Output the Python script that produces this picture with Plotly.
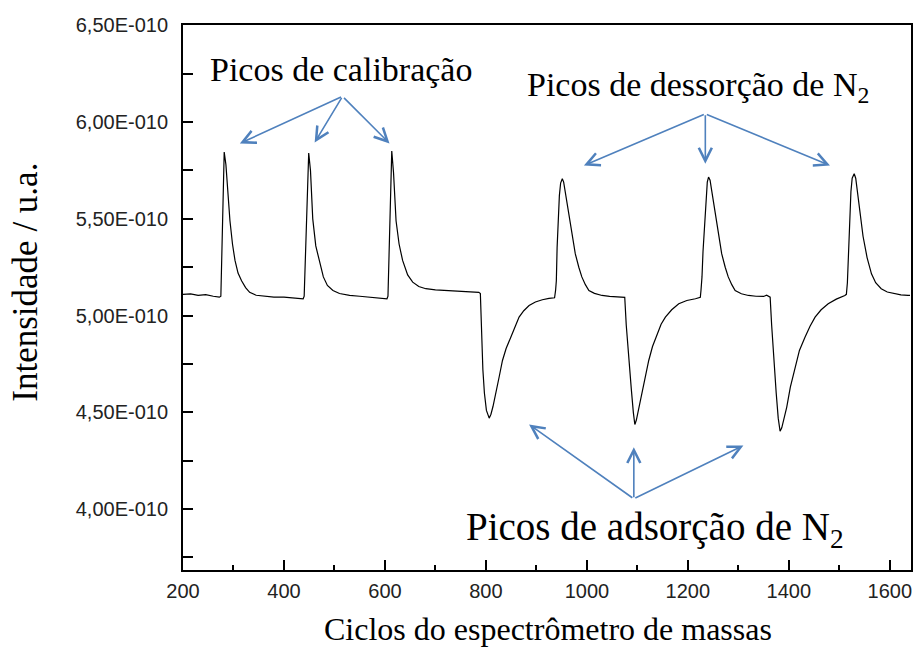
import plotly.graph_objects as go

# Mass-spectrometer trace: cycle number vs. N2 signal intensity (in units of 1E-10)
cycles = [
    200, 215, 230, 245, 260, 272, 275, 278, 281.6, 285, 289, 293, 298, 303, 309, 316, 324, 332,
    345, 360, 380, 400, 420, 438,
    440, 444, 449, 452.5, 457, 463, 470.6, 478, 486, 497, 510, 530, 550, 570, 590, 604,
    606, 610, 613.5, 617, 622, 628, 635, 645, 655, 667, 681, 700, 721, 740, 760, 775, 786, 789,
    791.5, 794, 797, 801, 806.5, 810, 814, 819.7, 826, 832.8, 840, 849.3, 857, 865.7, 875, 885.5,
    898, 911.8, 925, 936,
    938, 939.5, 941, 943.4, 945.5, 948, 951.3, 954, 957, 960.5, 964.5, 970, 977, 984, 990, 997,
    1004, 1015, 1030, 1045, 1063, 1075,
    1078, 1082, 1088, 1092, 1095, 1098, 1103, 1109, 1115, 1122.5, 1130, 1139, 1147, 1155.5, 1168,
    1182, 1198, 1215, 1224.7,
    1226, 1228, 1230, 1234.6, 1236.5, 1238.5, 1241, 1244, 1247, 1250.5, 1254.3, 1260, 1267, 1274,
    1280, 1287, 1293.7, 1306, 1320, 1335, 1350, 1356, 1360, 1363,
    1366, 1370, 1375, 1379, 1382.7, 1386, 1390, 1395.8, 1403, 1412.3, 1421, 1432, 1442, 1452,
    1464, 1478, 1494, 1511, 1514,
    1516, 1518, 1521, 1523, 1525.5, 1529.5, 1532.5, 1536, 1540.8, 1547, 1555, 1563.7, 1572, 1583,
    1595, 1609.9, 1622, 1636, 1640,
]
intensity_e10 = [
    5.110, 5.112, 5.105, 5.108, 5.100, 5.095, 5.100, 5.450, 5.845, 5.780, 5.620, 5.490, 5.370, 5.285, 5.220, 5.180, 5.145, 5.120,
    5.105, 5.100, 5.095, 5.095, 5.090, 5.087,
    5.100, 5.450, 5.840, 5.750, 5.500, 5.360, 5.270, 5.200, 5.156, 5.130, 5.114, 5.105, 5.100, 5.095, 5.090, 5.087,
    5.100, 5.480, 5.850, 5.740, 5.490, 5.370, 5.285, 5.210, 5.173, 5.150, 5.139, 5.133, 5.130, 5.128, 5.127, 5.125, 5.120, 5.114,
    4.900, 4.720, 4.600, 4.510, 4.470, 4.490, 4.530, 4.596, 4.680, 4.768, 4.830, 4.888, 4.940, 4.992, 5.025, 5.052,
    5.070, 5.082, 5.089, 5.092,
    5.130, 5.180, 5.350, 5.526, 5.620, 5.685, 5.707, 5.690, 5.640, 5.590, 5.526, 5.420, 5.320, 5.250, 5.200, 5.160,
    5.130, 5.115, 5.104, 5.099, 5.095, 5.094,
    4.950, 4.800, 4.620, 4.500, 4.437, 4.460, 4.520, 4.596, 4.680, 4.768, 4.840, 4.906, 4.955, 4.992, 5.030,
    5.061, 5.078, 5.087, 5.095,
    5.130, 5.200, 5.330, 5.526, 5.620, 5.690, 5.716, 5.700, 5.650, 5.590, 5.526, 5.420, 5.320, 5.250,
    5.200, 5.160, 5.130, 5.113, 5.104, 5.100, 5.099, 5.105, 5.100, 5.095,
    4.950, 4.780, 4.600, 4.470, 4.402, 4.420, 4.460, 4.526, 4.630, 4.733, 4.820, 4.888, 4.945, 4.992,
    5.030, 5.061, 5.085, 5.104, 5.110,
    5.170, 5.330, 5.526, 5.640, 5.710, 5.733, 5.710, 5.640, 5.526, 5.410, 5.300, 5.216, 5.170, 5.139,
    5.122, 5.113, 5.107, 5.104, 5.104,
]

x_ticks = [200, 400, 600, 800, 1000, 1200, 1400, 1600]
y_ticks_e10 = [4.00, 4.50, 5.00, 5.50, 6.00, 6.50]
y_tick_text = ["4,00E-010", "4,50E-010", "5,00E-010", "5,50E-010", "6,00E-010", "6,50E-010"]
y_minor_e10 = [3.75, 4.25, 4.75, 5.25, 5.75, 6.25]

# Arrow groups: (head x, head y) pointing out of a common tail, values in data units (y in 1E-10)
calib_tail = (516, 6.133)
calib_heads = [(312.6, 5.890), (460.8, 5.895), (609, 5.890)]
desorp_tail = (1234.6, 6.043)
desorp_heads = [(994.1, 5.776), (1234.6, 5.785), (1481.5, 5.776)]
adsorp_tail = (1093, 4.053)
adsorp_heads = [(885.5, 4.437), (1093, 4.320), (1310, 4.328)]

E10 = 1e-10
ARROW_BLUE = "rgb(79,129,189)"
SERIF = "Liberation Serif, Times New Roman, serif"
SANS = "Liberation Sans, Arial, sans-serif"

fig = go.Figure()
fig.add_trace(go.Scatter(
    x=cycles,
    y=[v * E10 for v in intensity_e10],
    mode="lines",
    line=dict(color="black", width=1.2),
    showlegend=False,
    hoverinfo="skip",
))

annotations = []
for tail, heads in ((calib_tail, calib_heads), (desorp_tail, desorp_heads), (adsorp_tail, adsorp_heads)):
    for hx, hy in heads:
        annotations.append(dict(
            x=hx, y=hy * E10, xref="x", yref="y",
            ax=tail[0], ay=tail[1] * E10, axref="x", ayref="y",
            text="", showarrow=True, arrowhead=5, arrowsize=1.6,
            arrowwidth=1.6, arrowcolor=ARROW_BLUE,
        ))

label_font = dict(family=SERIF, size=34, color="black")
annotations += [
    dict(x=513, y=6.27 * E10, xref="x", yref="y", text="Picos de calibração",
         showarrow=False, font=label_font, xanchor="center", yanchor="middle"),
    dict(x=1221, y=6.18 * E10, xref="x", yref="y", text="Picos de dessorção de N<sub>2</sub>",
         showarrow=False, font=label_font, xanchor="center", yanchor="middle"),
    dict(x=1135, y=3.895 * E10, xref="x", yref="y", text="Picos de adsorção de N<sub>2</sub>",
         showarrow=False, font=dict(family=SERIF, size=39, color="black"),
         xanchor="center", yanchor="middle"),
    # axis titles
    dict(x=0.501, y=-0.108, xref="paper", yref="paper", text="Ciclos do espectrômetro de massas",
         showarrow=False, font=dict(family=SERIF, size=32, color="black"),
         xanchor="center", yanchor="middle"),
    dict(x=-0.2164, y=0.528, xref="paper", yref="paper", text="Intensidade / u.a.",
         textangle=-90, showarrow=False, font=dict(family=SERIF, size=35, color="black"),
         xanchor="center", yanchor="middle"),
]

axis_common = dict(
    showline=True, linecolor="black", linewidth=2, mirror=True,
    ticks="inside", ticklen=10, tickwidth=2, tickcolor="black",
    showgrid=False, zeroline=False,
    tickfont=dict(family=SANS, size=20, color="#222222"),
)

fig.update_layout(
    width=918, height=648,
    margin=dict(l=183, r=5, t=25, b=78),
    paper_bgcolor="white", plot_bgcolor="white",
    annotations=annotations,
    xaxis=dict(
        range=[200, 1642], tickmode="array", tickvals=x_ticks, ticklabelstandoff=2,
        minor=dict(dtick=100, tick0=0, ticks="inside", ticklen=5, tickwidth=2, tickcolor="black"),
        **axis_common,
    ),
    yaxis=dict(
        range=[3.685 * E10, 6.502 * E10], tickmode="array",
        tickvals=[v * E10 for v in y_ticks_e10], ticktext=y_tick_text, ticklabelstandoff=9,
        minor=dict(tickmode="array", tickvals=[v * E10 for v in y_minor_e10],
                   ticks="inside", ticklen=10, tickwidth=2, tickcolor="black"),
        **axis_common,
    ),
)

fig.write_html("out.html")
